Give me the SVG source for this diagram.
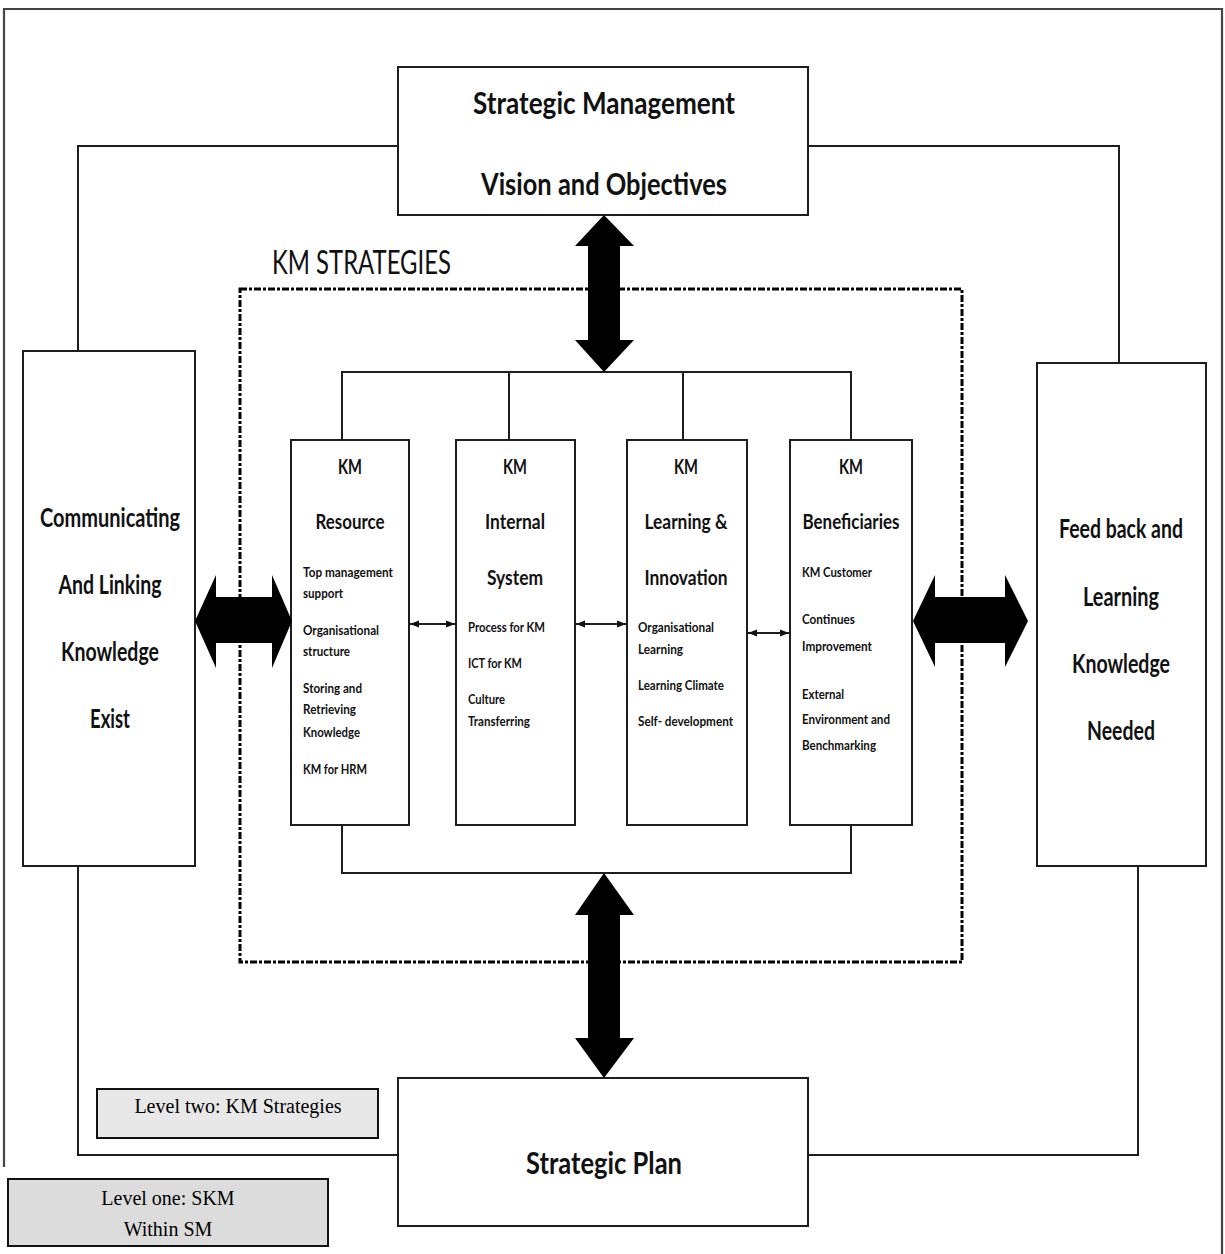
<svg xmlns="http://www.w3.org/2000/svg" width="1225" height="1254" viewBox="0 0 1225 1254">
  <style>
    .box { fill: #fff; stroke: #1e1e1e; stroke-width: 2; }
    .line { fill: none; stroke: #1e1e1e; stroke-width: 2; }
    .frame { fill: none; stroke: #444; stroke-width: 2.2; }
    .dash { fill: none; stroke: #000; stroke-width: 3; stroke-dasharray: 7 2 3 2; }
    .big { fill: #000; }
    .h1 { font-family: Lato, "Open Sans", sans-serif; font-weight: 700; font-size: 31px; fill: #111; text-anchor: middle; }
    .side { font-family: Lato, "Open Sans", sans-serif; font-weight: 700; font-size: 27px; fill: #111; text-anchor: middle; }
    .head { font-family: Lato, "Open Sans", sans-serif; font-weight: 700; font-size: 20px; fill: #111; text-anchor: middle; }
    .item { font-family: Lato, "Open Sans", sans-serif; font-weight: 700; font-size: 13px; fill: #111; }
    .title { font-family: Lato, "Open Sans", sans-serif; font-weight: 400; font-size: 33px; fill: #111; }
    .lvl { font-family: "Liberation Serif", serif; font-size: 20px; fill: #000; text-anchor: middle; }
    .lvlbox { stroke: #111; stroke-width: 2; }
  </style>
  <defs>
    <marker id="ah" viewBox="0 0 10 10" refX="10" refY="5" markerWidth="9" markerHeight="9" markerUnits="userSpaceOnUse" orient="auto-start-reverse">
      <path d="M0,1 L10,5 L0,9 Z" fill="#111"/>
    </marker>
  </defs>

  <rect width="1225" height="1254" fill="#fff"/>

  <!-- outer border of level one -->
  <path class="frame" d="M4,1167 V9 H1222 V1254"/>

  <g id="connectors">
    <!-- level two loop linking top, side and bottom boxes -->
    <path class="line" d="M78,351 V146 H398"/>
    <path class="line" d="M808,146 H1119 V363"/>
    <path class="line" d="M78,866 V1155 H398"/>
    <path class="line" d="M1138,866 V1155 H808"/>
    <!-- distribution bars over and under the four KM columns -->
    <path class="line" d="M342,440 V372 H851 V440"/>
    <path class="line" d="M509,372 V440"/>
    <path class="line" d="M683,372 V440"/>
    <path class="line" d="M342,825 V873 H851 V825"/>
    <!-- small two-way links between columns -->
    <line class="line" x1="410" y1="624" x2="455" y2="624" stroke-width="1.3" marker-start="url(#ah)" marker-end="url(#ah)"/>
    <line class="line" x1="576" y1="624" x2="626" y2="624" stroke-width="1.3" marker-start="url(#ah)" marker-end="url(#ah)"/>
    <line class="line" x1="748" y1="633" x2="789" y2="633" stroke-width="1.3" marker-start="url(#ah)" marker-end="url(#ah)"/>
  </g>

  <!-- KM strategies boundary -->
  <g id="km-strategies">
    <rect class="dash" x="240" y="289" width="722" height="673"/>
    <text class="title" x="272" y="274" textLength="179" lengthAdjust="spacingAndGlyphs">KM STRATEGIES</text>
  </g>

  <g id="strategic-management">
    <rect class="box" x="398" y="67" width="410" height="148"/>
    <text class="h1" x="604" y="114" textLength="262" lengthAdjust="spacingAndGlyphs">Strategic Management</text>
    <text class="h1" x="604" y="195" textLength="246" lengthAdjust="spacingAndGlyphs">Vision and Objectives</text>
  </g>

  <g id="strategic-plan">
    <rect class="box" x="398" y="1078" width="410" height="148"/>
    <text class="h1" x="604" y="1174" textLength="156" lengthAdjust="spacingAndGlyphs">Strategic Plan</text>
  </g>

  <g id="communicating">
    <rect class="box" x="23" y="351" width="172" height="515"/>
    <text class="side" x="110" y="527" textLength="140" lengthAdjust="spacingAndGlyphs">Communicating</text>
    <text class="side" x="110" y="594" textLength="103" lengthAdjust="spacingAndGlyphs">And Linking</text>
    <text class="side" x="110" y="661" textLength="98" lengthAdjust="spacingAndGlyphs">Knowledge</text>
    <text class="side" x="110" y="728" textLength="40" lengthAdjust="spacingAndGlyphs">Exist</text>
  </g>

  <g id="feedback">
    <rect class="box" x="1037" y="363" width="169" height="503"/>
    <text class="side" x="1121" y="538" font-size="25" textLength="124" lengthAdjust="spacingAndGlyphs">Feed back and</text>
    <text class="side" x="1121" y="606" textLength="76" lengthAdjust="spacingAndGlyphs">Learning</text>
    <text class="side" x="1121" y="673" textLength="98" lengthAdjust="spacingAndGlyphs">Knowledge</text>
    <text class="side" x="1121" y="740" textLength="68" lengthAdjust="spacingAndGlyphs">Needed</text>
  </g>

  <g id="km-resource">
    <rect class="box" x="291" y="440" width="118" height="385"/>
    <text class="head" x="350" y="474" textLength="24" lengthAdjust="spacingAndGlyphs">KM</text>
    <text class="head" x="350" y="529" textLength="69" lengthAdjust="spacingAndGlyphs">Resource</text>
    <text class="item" x="303" y="577" textLength="90" lengthAdjust="spacingAndGlyphs">Top management</text>
    <text class="item" x="303" y="598" textLength="40" lengthAdjust="spacingAndGlyphs">support</text>
    <text class="item" x="303" y="635" textLength="76" lengthAdjust="spacingAndGlyphs">Organisational</text>
    <text class="item" x="303" y="656" textLength="47" lengthAdjust="spacingAndGlyphs">structure</text>
    <text class="item" x="303" y="693" textLength="59" lengthAdjust="spacingAndGlyphs">Storing and</text>
    <text class="item" x="303" y="714" textLength="53" lengthAdjust="spacingAndGlyphs">Retrieving</text>
    <text class="item" x="303" y="737" textLength="57" lengthAdjust="spacingAndGlyphs">Knowledge</text>
    <text class="item" x="303" y="774" textLength="64" lengthAdjust="spacingAndGlyphs">KM for HRM</text>
  </g>

  <g id="km-internal-system">
    <rect class="box" x="456" y="440" width="119" height="385"/>
    <text class="head" x="515" y="474" textLength="24" lengthAdjust="spacingAndGlyphs">KM</text>
    <text class="head" x="515" y="529" textLength="60" lengthAdjust="spacingAndGlyphs">Internal</text>
    <text class="head" x="515" y="585" textLength="56" lengthAdjust="spacingAndGlyphs">System</text>
    <text class="item" x="468" y="632" textLength="77" lengthAdjust="spacingAndGlyphs">Process for KM</text>
    <text class="item" x="468" y="668" textLength="54" lengthAdjust="spacingAndGlyphs">ICT for KM</text>
    <text class="item" x="468" y="704" textLength="37" lengthAdjust="spacingAndGlyphs">Culture</text>
    <text class="item" x="468" y="726" textLength="62" lengthAdjust="spacingAndGlyphs">Transferring</text>
  </g>

  <g id="km-learning-innovation">
    <rect class="box" x="627" y="440" width="120" height="385"/>
    <text class="head" x="686" y="474" textLength="24" lengthAdjust="spacingAndGlyphs">KM</text>
    <text class="head" x="686" y="529" textLength="83" lengthAdjust="spacingAndGlyphs">Learning &amp;</text>
    <text class="head" x="686" y="585" textLength="83" lengthAdjust="spacingAndGlyphs">Innovation</text>
    <text class="item" x="638" y="632" textLength="76" lengthAdjust="spacingAndGlyphs">Organisational</text>
    <text class="item" x="638" y="654" textLength="45" lengthAdjust="spacingAndGlyphs">Learning</text>
    <text class="item" x="638" y="690" textLength="86" lengthAdjust="spacingAndGlyphs">Learning Climate</text>
    <text class="item" x="638" y="726" textLength="95" lengthAdjust="spacingAndGlyphs">Self- development</text>
  </g>

  <g id="km-beneficiaries">
    <rect class="box" x="790" y="440" width="122" height="385"/>
    <text class="head" x="851" y="474" textLength="24" lengthAdjust="spacingAndGlyphs">KM</text>
    <text class="head" x="851" y="529" textLength="97" lengthAdjust="spacingAndGlyphs">Beneficiaries</text>
    <text class="item" x="802" y="577" textLength="70" lengthAdjust="spacingAndGlyphs">KM Customer</text>
    <text class="item" x="802" y="624" textLength="53" lengthAdjust="spacingAndGlyphs">Continues</text>
    <text class="item" x="802" y="651" textLength="70" lengthAdjust="spacingAndGlyphs">Improvement</text>
    <text class="item" x="802" y="699" textLength="42" lengthAdjust="spacingAndGlyphs">External</text>
    <text class="item" x="802" y="724" textLength="88" lengthAdjust="spacingAndGlyphs">Environment and</text>
    <text class="item" x="802" y="750" textLength="74" lengthAdjust="spacingAndGlyphs">Benchmarking</text>
  </g>

  <!-- block double arrows -->
  <g id="big-arrows">
    <polygon class="big" points="604,215 634,246 620,246 620,340 634,340 604,372 575,340 588,340 588,246 575,246"/>
    <polygon class="big" points="604,873 634,915 620,915 620,1038 634,1038 604,1078 575,1038 588,1038 588,915 575,915"/>
    <polygon class="big" points="195,621 216,575 216,597 272,597 272,575 292,621 272,668 272,643 216,643 216,668"/>
    <polygon class="big" points="913,621 935,575 935,597 1005,597 1005,575 1028,621 1005,667 1005,643 935,643 935,667"/>
  </g>

  <g id="level-two">
    <rect class="lvlbox" x="97" y="1089" width="281" height="49" fill="#e8e8e8"/>
    <text class="lvl" x="238" y="1113">Level two: KM Strategies</text>
  </g>

  <g id="level-one">
    <rect class="lvlbox" x="8" y="1179" width="320" height="67" fill="#dcdcdc"/>
    <text class="lvl" x="168" y="1205">Level one: SKM</text>
    <text class="lvl" x="168" y="1236">Within SM</text>
  </g>
</svg>
